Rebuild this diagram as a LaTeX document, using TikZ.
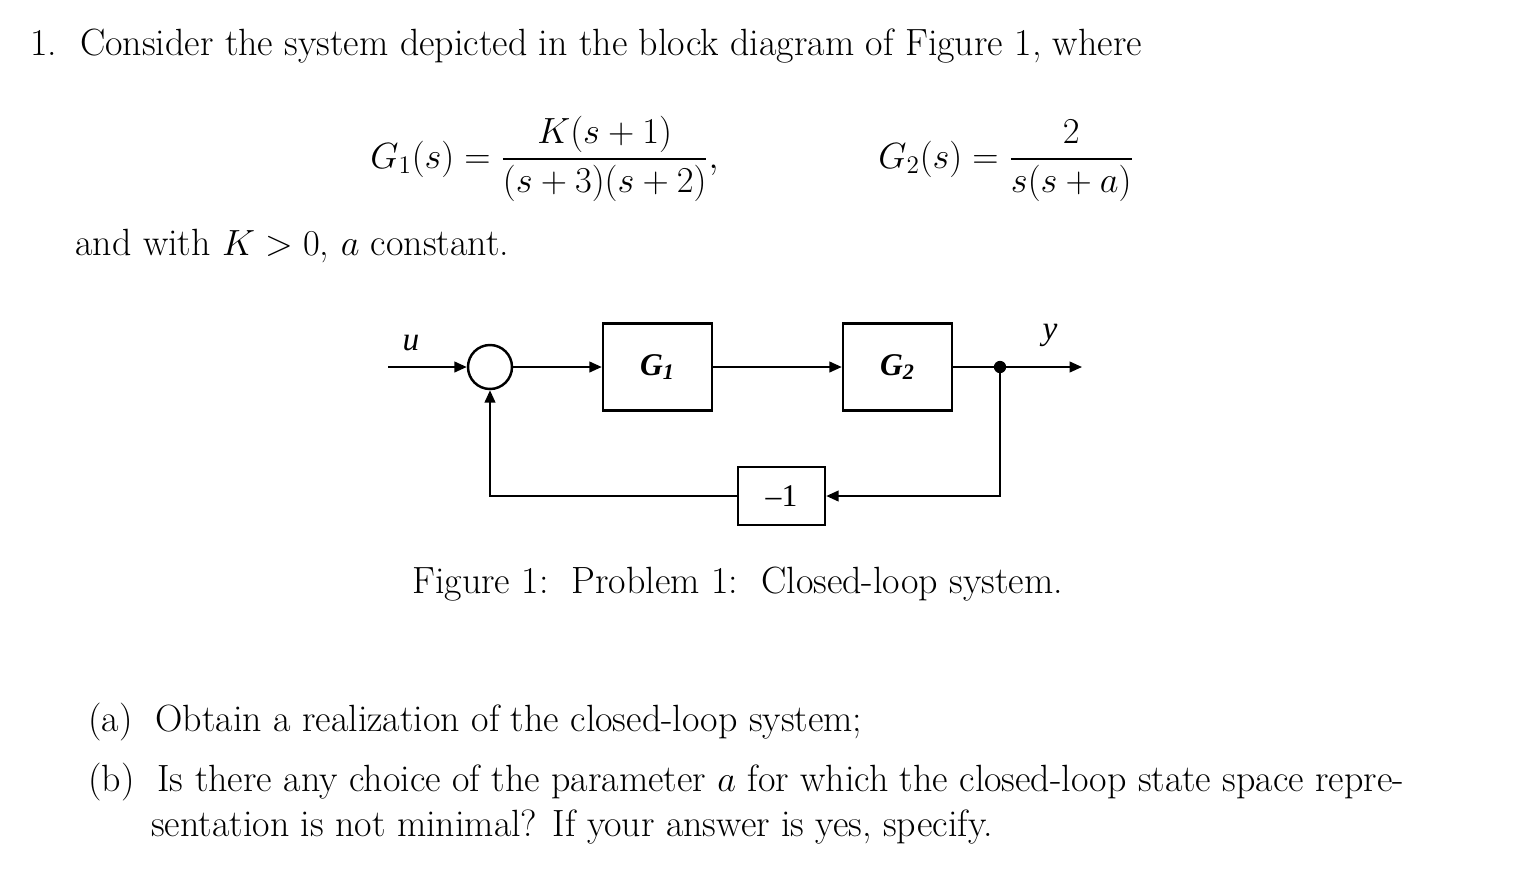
\documentclass[tikz,border=0pt]{standalone}
\usepackage{amsmath,bm}
\usepackage{fontspec}
\newfontfamily\tms{Liberation Serif}
\usetikzlibrary{arrows.meta}
\begin{document}
\begin{tikzpicture}[x=0.02cm,y=-0.02cm,
  txt/.style={anchor=base west,inner sep=0,font=\fontsize{21.6}{26}\selectfont},
  blk/.style={draw,line width=1.4pt,minimum width=109*0.02cm,minimum height=87*0.02cm,inner sep=0,font=\fontsize{18}{20}\selectfont\tms},
  sig/.style={line width=1.2pt,-{Triangle[length=7pt,width=6pt]}},
  ln/.style={line width=1.2pt}]
\useasboundingbox (0,0) rectangle (1530,886);
\node[txt] (l1) at (30,55) {1.\ \ Consider the system depicted in the block diagram of Figure 1, where};
\node[txt] (g1) at (370,168) {$G_1(s)=\dfrac{K(s+1)}{(s+3)(s+2)},$};
\node[txt] (g2) at (878,168) {$G_2(s)=\dfrac{2}{s(s+a)}$};
\node[txt] (l2) at (75,255) {and with $K>0$, $a$ constant.};
% diagram
\node[font=\fontsize{19}{20}\selectfont\tms\itshape,inner sep=0] (u) at (411,343) {u};
\node[font=\fontsize{19}{20}\selectfont\tms\itshape,inner sep=0] (ylab) at (1050,335) {y};
\coordinate (in) at (388,367);
\node[draw,circle,line width=1.4pt,minimum size=44*0.02cm,inner sep=0] (sum) at (490,367) {};
\node[blk] (G1) at (657.5,367) {\bfseries\itshape G\textsubscript{1}};
\node[blk] (G2) at (897.5,367) {\bfseries\itshape G\textsubscript{2}};
\node[blk,minimum width=87*0.02cm,minimum height=58*0.02cm] (fb) at (781.5,496) {\textendash1};
\fill (1000,367) circle (3.5pt) coordinate (dot);
\coordinate (out) at (1082,367);
\draw[sig] (in) -- (sum.west);
\draw[sig] (sum.east) -- (G1.west);
\draw[sig] (G1.east) -- (G2.west);
\draw[ln] (G2.east) -- (dot);
\draw[sig] (dot) -- (out);
\draw[sig] (dot) |- (fb.east);
\draw[sig] (fb.west) -| (sum.south);
\node[txt] (cap) at (412,593) {Figure 1:\ \ Problem 1:\ \ Closed-loop system.};
\node[txt] (qa) at (88,731) {(a)\ \ Obtain a realization of the closed-loop system;};
\node[txt] (qb) at (88,791) {(b)\ \ Is there any choice of the parameter $a$ for which the closed-loop state space repre-};
\node[txt] (qb2) at (151,836) {sentation is not minimal? If your answer is yes, specify.};
\end{tikzpicture}
\end{document}
